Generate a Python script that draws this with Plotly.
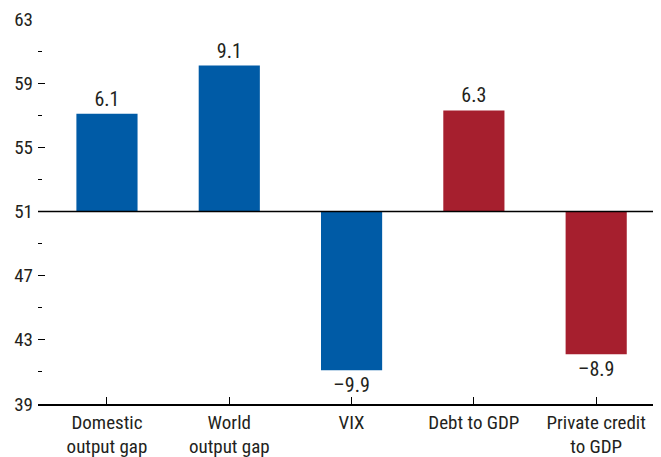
import plotly.graph_objects as go

categories = ["Domestic<br>output gap", "World<br>output gap", "VIX", "Debt to GDP", "Private credit<br>to GDP"]
values = [6.1, 9.1, -9.9, 6.3, -8.9]
colors = ["#005BA6", "#005BA6", "#005BA6", "#A61F2E", "#A61F2E"]
BASE = 51
y_ticks = [39, 43, 47, 51, 55, 59, 63]

FONT = "Liberation Sans Narrow, Arial Narrow, Roboto Condensed, Roboto, Liberation Sans, Arial, sans-serif"

labels = [("–" + f"{abs(v):.1f}") if v < 0 else f"{v:.1f}" for v in values]

fig = go.Figure()
fig.add_trace(go.Bar(
    x=list(range(len(categories))), y=values, base=BASE,
    marker=dict(color=colors, line=dict(width=0)),
    width=0.5,
    text=labels, textposition="outside", cliponaxis=False,
    textfont=dict(family=FONT, size=20, color="#231F20"),
    showlegend=False, hoverinfo="skip",
))
fig.add_shape(type="line", xref="paper", x0=0, x1=1, yref="y", y0=BASE, y1=BASE,
              line=dict(color="black", width=1.5))

# page body has an 8px margin: figure is drawn 8px right/down
fig.update_layout(
    width=653, height=449,
    margin=dict(l=30, r=0, t=11, b=53),
    paper_bgcolor="white", plot_bgcolor="white",
    font=dict(family=FONT, size=19, color="#231F20"),
    xaxis=dict(
        tickmode="array", tickvals=list(range(len(categories))), ticktext=categories,
        range=[-0.564, 4.53], showline=True, linecolor="black", linewidth=1.5,
        ticks="inside", ticklen=7, tickcolor="black", tickwidth=1,
        showgrid=False, zeroline=False, tickfont=dict(size=19),
    ),
    yaxis=dict(
        range=[39, 63], tickmode="array", tickvals=y_ticks,
        ticks="inside", ticklen=7, tickcolor="black", tickwidth=1,
        minor=dict(dtick=2, tick0=39, ticks="inside", ticklen=4, tickcolor="black", showgrid=False),
        showline=False, showgrid=False, zeroline=False, tickfont=dict(size=19),
        ticklabelstandoff=4, ticklabeloverflow="allow",
    ),
    bargap=0.5,
)

fig.write_html("out.html")
